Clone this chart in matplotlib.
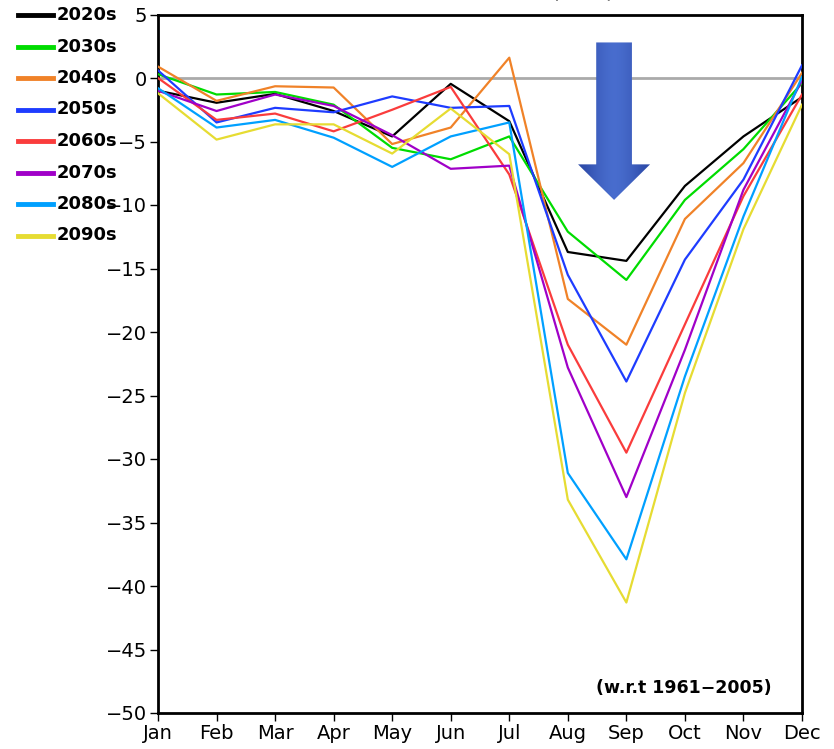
import numpy as np
import matplotlib
matplotlib.use("Agg")
import matplotlib.pyplot as plt
from matplotlib.lines import Line2D
from matplotlib.patches import FancyArrow
from matplotlib import font_manager

# monthly change (w.r.t 1961-2005)
months = ['Jan', 'Feb', 'Mar', 'Apr', 'May', 'Jun', 'Jul', 'Aug', 'Sep', 'Oct', 'Nov', 'Dec']
decades = ['2020s', '2030s', '2040s', '2050s', '2060s', '2070s', '2080s', '2090s']

d2020 = [-1.0, -1.95, -1.25, -2.6, -4.6, -0.46, -3.4, -13.7, -14.4, -8.5, -4.6, -1.5]
d2030 = [0.3, -1.3, -1.1, -2.1, -5.5, -6.4, -4.6, -12.1, -15.9, -9.6, -5.6, -0.4]
d2040 = [0.9, -1.8, -0.65, -0.75, -5.2, -3.9, 1.6, -17.4, -21.0, -11.1, -6.7, 0.4]
d2050 = [0.6, -3.5, -2.35, -2.7, -1.45, -2.35, -2.2, -15.5, -23.9, -14.3, -8.0, 1.0]
d2060 = [0.0, -3.3, -2.8, -4.2, -2.5, -0.7, -7.6, -21.0, -29.5, -19.4, -9.3, -1.3]
d2070 = [-1.0, -2.6, -1.3, -2.2, -4.5, -7.15, -6.9, -22.8, -33.0, -21.4, -8.8, -0.2]
d2080 = [-0.8, -3.9, -3.3, -4.7, -7.0, -4.6, -3.5, -31.1, -37.9, -23.5, -10.9, 0.1]
d2090 = [-1.2, -4.85, -3.65, -3.65, -5.95, -2.4, -6.0, -33.2, -41.3, -24.8, -11.9, -2.1]

series = [d2020, d2030, d2040, d2050, d2060, d2070, d2080, d2090]
colors = ['#000000', '#00dc00', '#f08228', '#1e3cff', '#fa3c3c', '#a000c8', '#00a0ff', '#e6dc32']

# narrow font if one is around, otherwise plain DejaVu
names = {f.name for f in font_manager.fontManager.ttflist}
FONT = [n for n in ['Liberation Sans Narrow', 'DejaVu Sans Condensed'] if n in names] + ['DejaVu Sans']
plt.rcParams['font.family'] = FONT

fig = plt.figure(figsize=(8.34, 7.49), dpi=100)
ax = fig.add_axes([158/834, 1 - 713/749, 644/834, 698.5/749])

x = np.arange(len(months))
ax.axhline(0, color='#aaaaaa', lw=2, zorder=1)
for vals, c in zip(series, colors):
    ax.plot(x, vals, color=c, lw=1.6, zorder=3)

# big blue arrow pointing down at Sep
arrow = FancyArrow(7.79, 2.8, 0, -12.4, width=0.61, head_width=1.23, head_length=2.8,
                   length_includes_head=True, facecolor='none', edgecolor='none', zorder=4)
ax.add_patch(arrow)
grad = np.array([[0.0, 0.5, 0.8, 1.0, 0.8, 0.5, 0.0]])
im = ax.imshow(grad, cmap=matplotlib.colors.LinearSegmentedColormap.from_list(
    'b', ['#2d4aa8', '#4a6fd0']), extent=[7.17, 8.41, -9.6, 2.8],
    aspect='auto', zorder=4, interpolation='bicubic')
im.set_clip_path(arrow)

ax.set_xlim(0, 11)
ax.set_ylim(-50, 5)
ax.set_xticks(x)
ax.set_xticklabels(months)
ax.set_yticks(np.arange(-50, 6, 5))
ax.set_yticklabels([str(v).replace('-', '\u2212') for v in range(-50, 6, 5)])
ax.tick_params(direction='out', length=6, width=1, labelsize=14, pad=2, colors='black')
for s in ax.spines.values():
    s.set_linewidth(2)

ax.text(0.953, 0.036, '(w.r.t 1961\u22122005)', transform=ax.transAxes, ha='right',
        va='center', fontsize=12.5, fontweight='bold')

# title sits above the top edge, only the bottom of the brackets shows
fig.text(615/834, 1 + 4/749, 'Rainfall Deficit (mm)', ha='right', va='baseline', fontsize=17)

# legend on the left, outside the axes
for i, (lab, c) in enumerate(zip(decades, colors)):
    yy = 1 - (15 + i * 31.5) / 749
    fig.add_artist(Line2D([18/834, 53/834], [yy, yy], color=c, lw=3.5))
    fig.text(57/834, yy, lab, ha='left', va='center', fontsize=13, fontweight='bold')

fig.savefig('out.png', dpi=100)
